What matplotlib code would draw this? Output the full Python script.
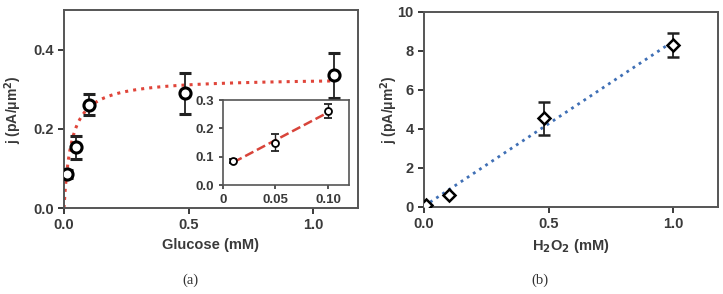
import numpy as np
import matplotlib
matplotlib.use('Agg')
import matplotlib.pyplot as plt

plt.rcParams['font.family'] = ['Liberation Sans', 'DejaVu Sans']
plt.rcParams['font.weight'] = 'bold'

# panel (a): glucose
glucose = [0.011, 0.05, 0.102, 0.486, 1.085]
j_glucose = [0.085, 0.153, 0.261, 0.29, 0.335]
err_glucose = [0.01, 0.028, 0.026, 0.052, 0.057]
jmax, km = 0.33, 0.03

# inset: low glucose range
glucose_low = [0.01, 0.05, 0.10]
j_low = [0.085, 0.15, 0.26]
err_low = [0.008, 0.03, 0.025]

# panel (b): H2O2
h2o2 = [0.01, 0.1, 0.48, 1.0]
j_h2o2 = [0.1, 0.62, 4.53, 8.29]
err_h2o2 = [0.0, 0.0, 0.83, 0.6]

grey = '#3a3a3a'
spine_col = '#555555'


def style(ax, lw=1.4):
    for s in ax.spines.values():
        s.set_color(spine_col)
        s.set_linewidth(lw)
    ax.tick_params(colors=grey, width=lw, length=4, labelsize=10.5)
    for lab in ax.get_xticklabels() + ax.get_yticklabels():
        lab.set_fontweight('bold')


fig = plt.figure(figsize=(7.23, 2.94), dpi=100)

ax1 = fig.add_axes([0.0885, 0.2925, 0.4066, 0.673])
cc = np.linspace(0, 1.085, 200)
ax1.plot(cc, jmax * cc / (km + cc), ls=':', color='#e0453a', lw=2.2, zorder=1)
ax1.errorbar(glucose, j_glucose, yerr=err_glucose, fmt='o', ms=8, mfc='white',
             mec='black', mew=2.2, ecolor='#222222', elinewidth=1.3, capsize=4,
             capthick=1.3, zorder=3)
ax1.set_xlim(0, 1.18)
ax1.set_ylim(0, 0.5)
ax1.set_xticks([0, 0.5, 1.0])
ax1.set_xticklabels(['0.0', '0.5', '1.0'])
ax1.set_yticks([0, 0.2, 0.4])
ax1.set_yticklabels(['0.0', '0.2', '0.4'])
style(ax1)
ax1.set_xlabel('Glucose (mM)', fontsize=10.5, fontweight='bold', color=grey)
ax1.set_ylabel('j (pA/μm$^\\mathbf{2}$)', fontsize=10, fontweight='bold', color=grey)
ax1.yaxis.set_label_coords(-0.135, 0.5)

ins = fig.add_axes([0.3084, 0.3707, 0.1743, 0.289])
slope, icpt = np.polyfit(glucose_low, j_low, 1)
xl = np.array([glucose_low[0], glucose_low[-1]])
ins.plot(xl, slope * xl + icpt, ls='--', color='#d8443a', lw=1.8, zorder=1)
ins.errorbar(glucose_low, j_low, yerr=err_low, fmt='o', ms=5, mfc='white',
             mec='black', mew=1.3, ecolor='#222222', elinewidth=1, capsize=3,
             capthick=1, zorder=3)
ins.set_xlim(0, 0.12)
ins.set_ylim(0, 0.3)
ins.set_xticks([0, 0.05, 0.10])
ins.set_xticklabels(['0', '0.05', '0.10'])
ins.set_yticks([0, 0.1, 0.2, 0.3])
ins.set_yticklabels(['0.0', '0.1', '0.2', '0.3'])
style(ins, lw=1.2)
ins.tick_params(labelsize=9.5, length=3)

ax2 = fig.add_axes([0.5864, 0.297, 0.4066, 0.663])
s2, b2 = np.polyfit(h2o2, j_h2o2, 1)
xh = np.array([0, 1.0])
ax2.plot(xh, s2 * xh + b2, ls=':', color='#3f6fb5', lw=2, zorder=1)
ax2.errorbar(h2o2, j_h2o2, yerr=err_h2o2, fmt='D', ms=6, mfc='white',
             mec='black', mew=1.8, ecolor='#222222', elinewidth=1.3, capsize=4,
             capthick=1.3, zorder=3)
ax2.set_xlim(0, 1.18)
ax2.set_ylim(0, 10)
ax2.set_xticks([0, 0.5, 1.0])
ax2.set_xticklabels(['0.0', '0.5', '1.0'])
ax2.set_yticks([0, 2, 4, 6, 8, 10])
style(ax2)
ax2.set_xlabel('H$_\\mathbf{2}$O$_\\mathbf{2}$ (mM)', fontsize=10.5, fontweight='bold', color=grey)
ax2.set_ylabel('j (pA/μm$^\\mathbf{2}$)', fontsize=10, fontweight='bold', color=grey)
ax2.yaxis.set_label_coords(-0.08, 0.5)

fig.text(0.263, 0.035, '(a)', family='Liberation Serif', fontweight='normal',
         fontsize=10.5, color='#333333', ha='center')
fig.text(0.747, 0.035, '(b)', family='Liberation Serif', fontweight='normal',
         fontsize=10.5, color='#333333', ha='center')

fig.savefig('out.png', dpi=100)
